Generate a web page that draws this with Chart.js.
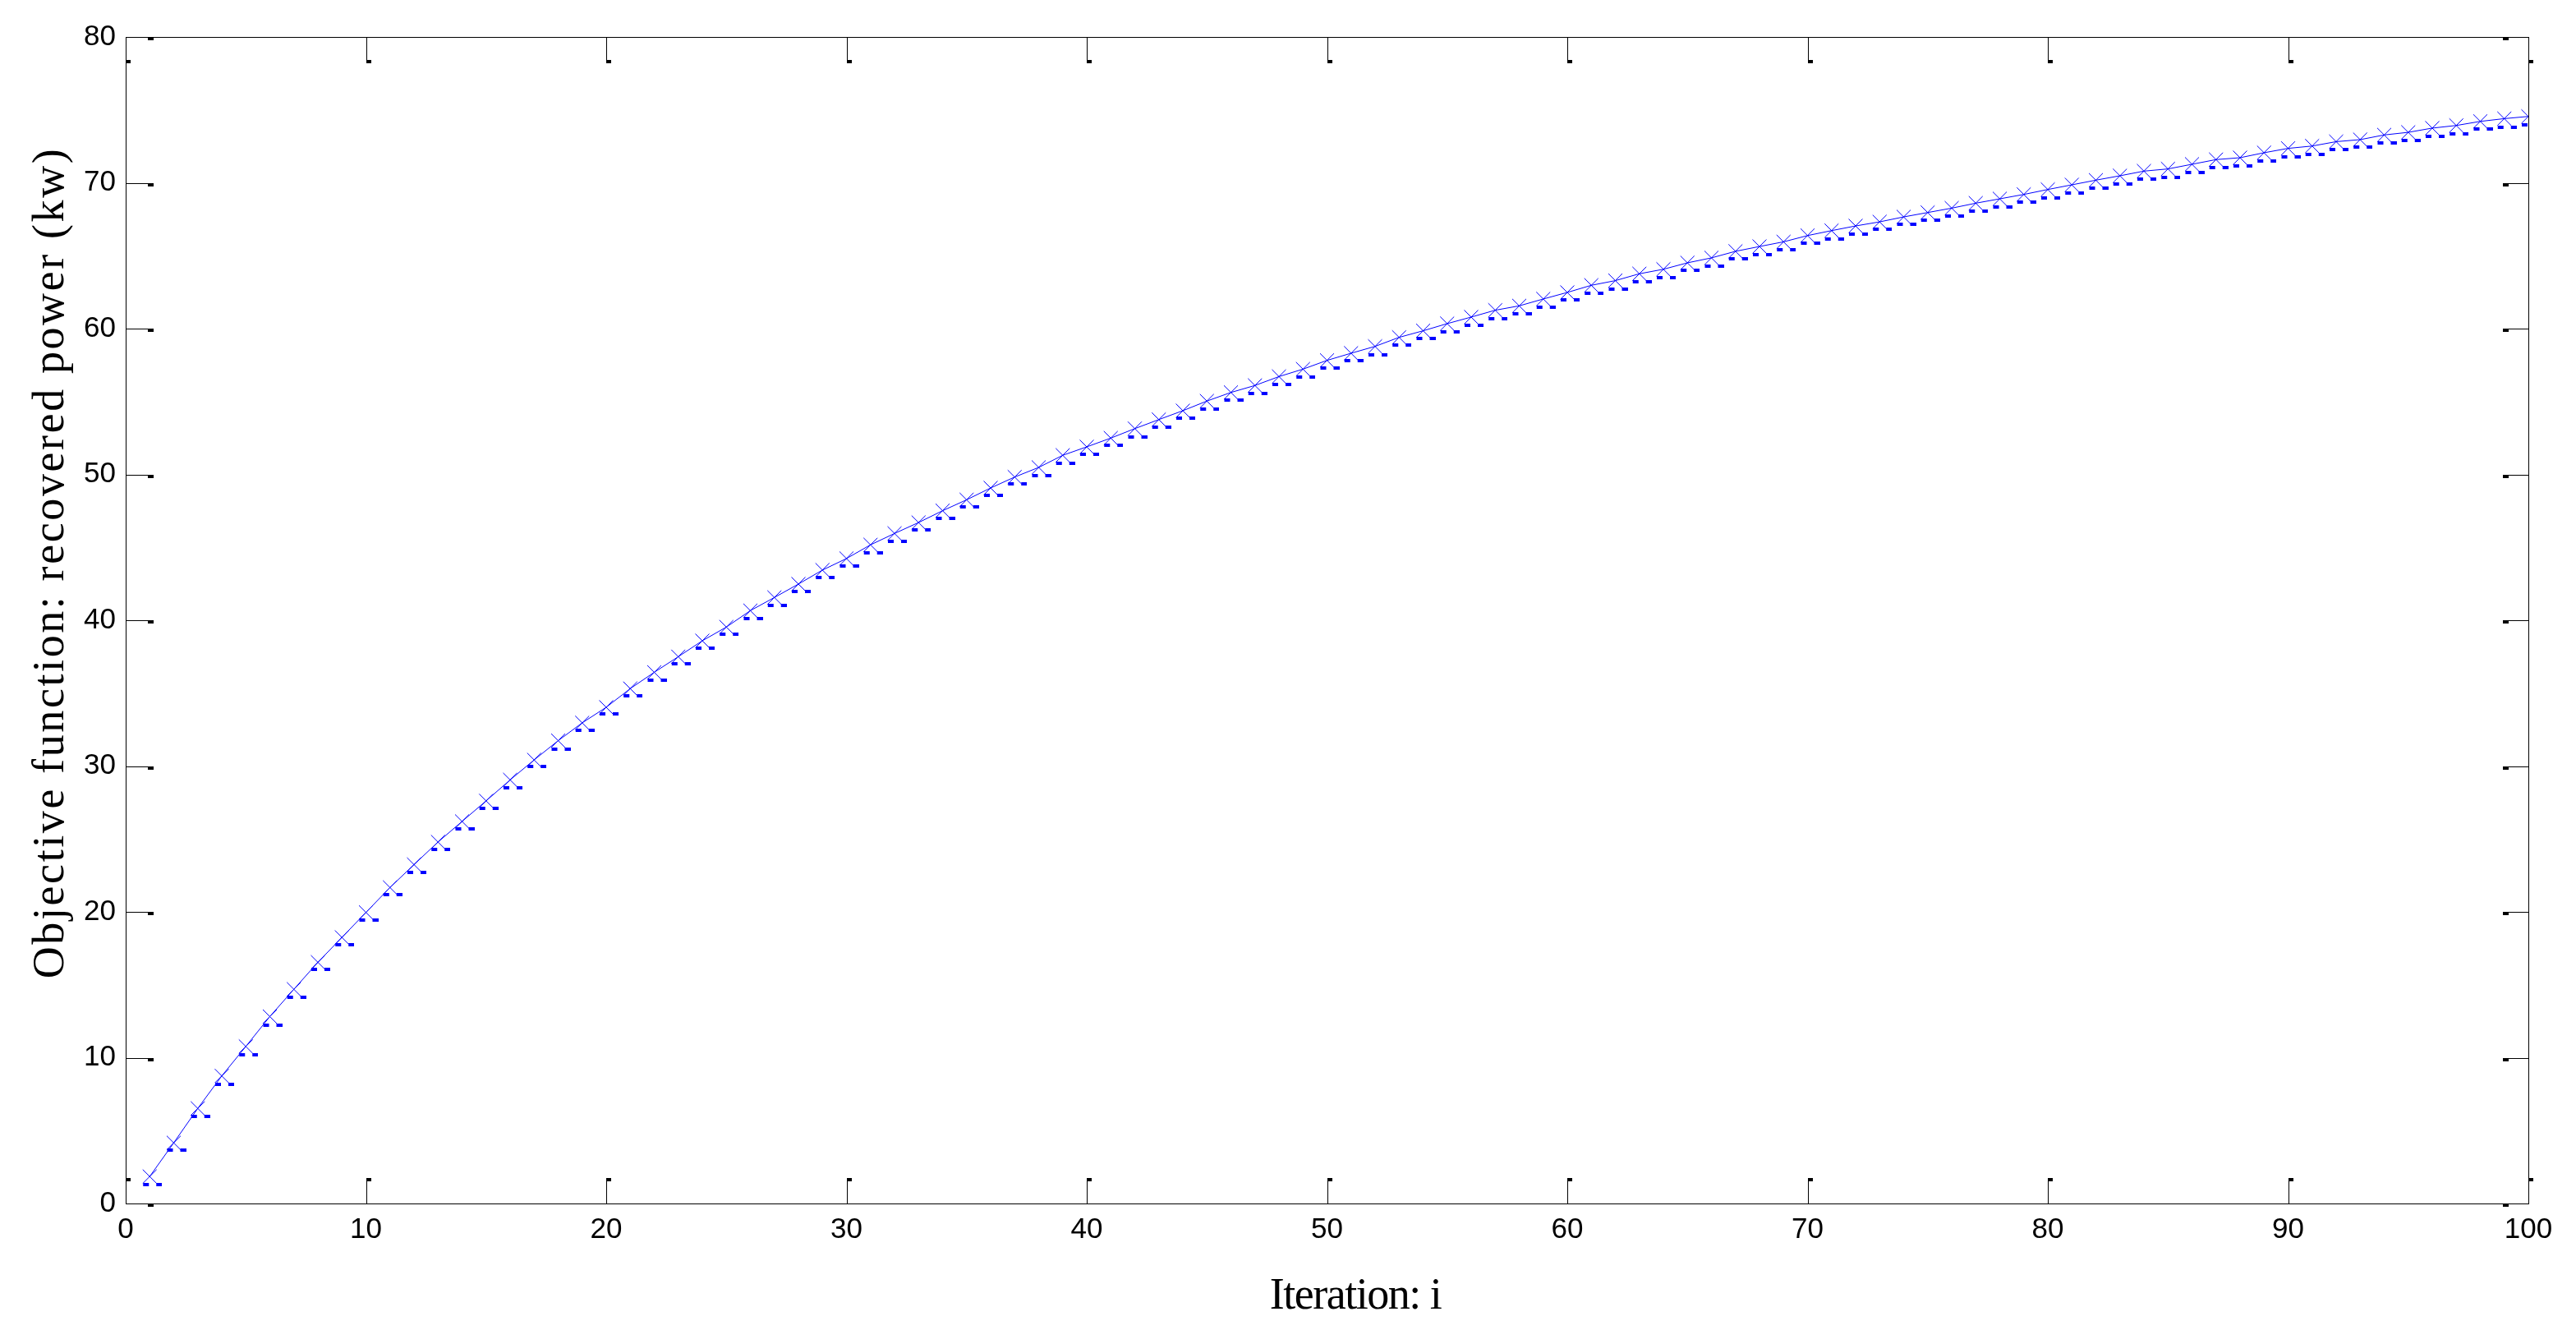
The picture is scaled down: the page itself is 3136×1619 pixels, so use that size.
<!DOCTYPE html>
<html>
<head>
<meta charset="utf-8">
<script src="https://cdn.jsdelivr.net/npm/chart.js@4/dist/chart.umd.min.js"></script>
<style>
  html, body { margin: 0; padding: 0; background: #fff; }
  canvas { display: block; }
</style>
</head>
<body>
<canvas id="chart" width="3136" height="1619"></canvas>
<script>
// iterations 1..100
var iterations = Array.from({ length: 100 }, function(_, i) { return i + 1; });

// solid line with x markers
var powerCross = [
  1.85, 4.16, 6.52, 8.75, 10.77, 12.82, 14.69, 16.54, 18.25, 19.96,
  21.67, 23.24, 24.79, 26.20, 27.61, 29.05, 30.42, 31.74, 32.96, 34.03,
  35.31, 36.43, 37.50, 38.59, 39.53, 40.66, 41.56, 42.48, 43.44, 44.23,
  45.17, 45.95, 46.70, 47.51, 48.26, 49.07, 49.82, 50.48, 51.31, 51.89,
  52.49, 53.14, 53.76, 54.37, 55.03, 55.62, 56.10, 56.71, 57.22, 57.82,
  58.31, 58.78, 59.40, 59.85, 60.34, 60.79, 61.26, 61.56, 62.03, 62.48,
  62.97, 63.29, 63.76, 64.07, 64.51, 64.85, 65.30, 65.63, 65.95, 66.38,
  66.72, 67.04, 67.32, 67.66, 67.96, 68.26, 68.60, 68.90, 69.20, 69.54,
  69.86, 70.18, 70.48, 70.80, 70.95, 71.27, 71.59, 71.72, 72.06, 72.36,
  72.52, 72.82, 72.96, 73.28, 73.46, 73.75, 73.93, 74.21, 74.40, 74.55
];

// dash markers just below
var powerDash = [
  1.31, 3.66, 5.98, 8.19, 10.20, 12.25, 14.16, 16.03, 17.75, 19.46,
  21.17, 22.72, 24.29, 25.70, 27.12, 28.53, 29.95, 31.17, 32.43, 33.56,
  34.80, 35.87, 37.00, 38.07, 39.03, 40.10, 41.03, 41.97, 42.91, 43.70,
  44.64, 45.43, 46.18, 46.97, 47.76, 48.55, 49.33, 49.93, 50.74, 51.36,
  51.98, 52.58, 53.22, 53.84, 54.46, 55.10, 55.57, 56.19, 56.66, 57.28,
  57.79, 58.21, 58.86, 59.31, 59.80, 60.24, 60.69, 61.03, 61.48, 61.97,
  62.44, 62.72, 63.23, 63.51, 64.00, 64.30, 64.79, 65.09, 65.41, 65.88,
  66.16, 66.50, 66.82, 67.14, 67.46, 67.74, 68.07, 68.36, 68.69, 68.98,
  69.31, 69.63, 69.93, 70.25, 70.38, 70.72, 71.06, 71.17, 71.48, 71.79,
  71.96, 72.26, 72.45, 72.75, 72.92, 73.18, 73.37, 73.67, 73.82, 73.99
];

var xTitle = 'Iteration: i';
var yTitle = 'Objective function: recovered power (kw)';
var blue = '#0000ff';

// two little bars, the way the dotted marker comes out in the original
var dashMarker = document.createElement('canvas');
dashMarker.width = 30;
dashMarker.height = 4;
(function() {
  var c = dashMarker.getContext('2d');
  c.fillStyle = blue;
  c.fillRect(7, 0, 7, 4);
  c.fillRect(23, 0, 7, 4);
})();

function toPoints(vals) {
  return vals.map(function(v, i) { return { x: iterations[i], y: v }; });
}

// matlab style frame + inward ticks with the little end blocks
var frameTicks = {
  id: 'frameTicks',
  afterDraw: function(chart) {
    var ctx = chart.ctx, a = chart.chartArea;
    var xs = chart.scales.x, ys = chart.scales.y;
    var len = 29;
    ctx.save();
    ctx.strokeStyle = '#000';
    ctx.fillStyle = '#000';
    ctx.lineWidth = 1;
    ctx.strokeRect(Math.round(a.left) + 0.5, Math.round(a.top) + 0.5,
      Math.round(a.right - a.left), Math.round(a.bottom - a.top));
    ctx.beginPath();
    xs.ticks.forEach(function(t) {
      var px = Math.round(xs.getPixelForValue(t.value)) + 0.5;
      ctx.moveTo(px, a.bottom); ctx.lineTo(px, a.bottom - len);
      ctx.moveTo(px, a.top); ctx.lineTo(px, a.top + len);
    });
    ys.ticks.forEach(function(t) {
      var py = Math.round(ys.getPixelForValue(t.value)) + 0.5;
      ctx.moveTo(a.left, py); ctx.lineTo(a.left + len, py);
      ctx.moveTo(a.right, py); ctx.lineTo(a.right - len, py);
    });
    ctx.stroke();
    xs.ticks.forEach(function(t) {
      var px = Math.round(xs.getPixelForValue(t.value));
      ctx.fillRect(px, a.bottom - len - 2, 6, 4);
      ctx.fillRect(px, a.top + len - 1, 6, 4);
    });
    ys.ticks.forEach(function(t) {
      var py = Math.round(ys.getPixelForValue(t.value));
      ctx.fillRect(a.left + len - 2, py, 7, 4);
      ctx.fillRect(a.right - len - 2, py, 7, 4);
    });

    // axis titles
    ctx.fillStyle = '#000';
    ctx.font = '54px "Liberation Serif", "Times New Roman", serif';
    ctx.textAlign = 'center';
    ctx.textBaseline = 'alphabetic';
    ctx.letterSpacing = '-1.5px';
    ctx.fillText(xTitle, 1650, 1593);
    ctx.letterSpacing = '2.6px';
    ctx.translate(77, 685);
    ctx.rotate(-Math.PI / 2);
    ctx.fillText(yTitle, 0, 0);
    ctx.restore();
  }
};

new Chart(document.getElementById('chart'), {
  type: 'line',
  data: {
    datasets: [
      {
        label: 'x markers',
        data: toPoints(powerCross),
        borderColor: blue,
        borderWidth: 1,
        pointStyle: 'crossRot',
        pointRadius: 12,
        pointBorderWidth: 1,
        pointBorderColor: blue,
        pointBackgroundColor: blue,
        tension: 0,
        fill: false
      },
      {
        label: 'dash markers',
        data: toPoints(powerDash),
        showLine: false,
        pointStyle: dashMarker,
        pointRadius: 8,
        borderColor: blue,
        backgroundColor: blue
      }
    ]
  },
  options: {
    responsive: false,
    animation: false,
    devicePixelRatio: 1,
    layout: { padding: { top: 45, right: 58, left: 0, bottom: 0 } },
    plugins: { legend: { display: false }, tooltip: { enabled: false } },
    scales: {
      x: {
        type: 'linear',
        min: 0, max: 100,
        afterFit: function(s) { s.height = 154; },
        grid: { display: false, drawTicks: false },
        border: { display: false },
        ticks: {
          stepSize: 10,
          padding: 11,
          color: '#000',
          maxRotation: 0,
          font: { family: '"Liberation Sans", Arial, sans-serif', size: 35 }
        }
      },
      y: {
        min: 0, max: 80,
        afterFit: function(s) { s.width = 153; },
        grid: { display: false, drawTicks: false },
        border: { display: false },
        ticks: {
          stepSize: 10,
          padding: 12,
          color: '#000',
          font: { family: '"Liberation Sans", Arial, sans-serif', size: 35 }
        }
      }
    }
  },
  plugins: [frameTicks]
});
</script>
</body>
</html>
